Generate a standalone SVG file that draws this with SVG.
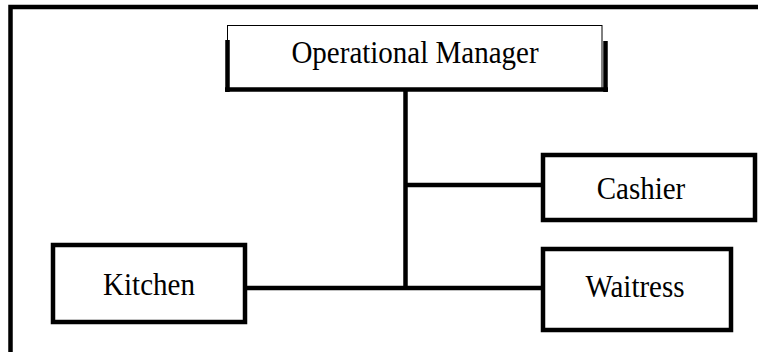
<svg xmlns="http://www.w3.org/2000/svg" width="758" height="352" viewBox="0 0 758 352">
<style>
.t{font-family:"Liberation Serif","Times New Roman",serif;font-size:29px;fill:#000;text-anchor:middle}
.box{fill:#fff;stroke:#000;stroke-width:4.5}
.line{stroke:#000;stroke-width:4.5;fill:none}
</style>
<rect width="758" height="352" fill="#fff"/>
<rect x="10.5" y="7" width="800" height="400" fill="none" stroke="#000" stroke-width="4.5"/>
<g id="connectors">
<line class="line" x1="405.5" y1="90" x2="405.5" y2="288"/>
<line class="line" x1="405.5" y1="185" x2="543" y2="185"/>
<line class="line" x1="245" y1="288" x2="543" y2="288"/>
</g>
<g id="operational-manager">
<rect x="227.5" y="25.5" width="374.5" height="64" fill="#fff" stroke="#000" stroke-width="1"/>
<line class="line" x1="227.5" y1="40" x2="227.5" y2="92"/>
<line class="line" x1="225" y1="89.5" x2="608" y2="89.5"/>
<line class="line" x1="605.5" y1="41" x2="605.5" y2="92"/>
<text class="t" x="415" y="63" transform="translate(0,63) scale(1,1.08) translate(0,-63)">Operational Manager</text>
</g>
<g id="cashier">
<rect class="box" x="543" y="155" width="212" height="65"/>
<text class="t" x="641" y="199" transform="translate(0,199) scale(1,1.08) translate(0,-199)">Cashier</text>
</g>
<g id="kitchen">
<rect class="box" x="53" y="245" width="192" height="77"/>
<text class="t" x="149" y="295" transform="translate(0,295) scale(1,1.08) translate(0,-295)">Kitchen</text>
</g>
<g id="waitress">
<rect class="box" x="543" y="249" width="188" height="81"/>
<text class="t" x="635" y="297" transform="translate(0,297) scale(1,1.08) translate(0,-297)">Waitress</text>
</g>
</svg>
